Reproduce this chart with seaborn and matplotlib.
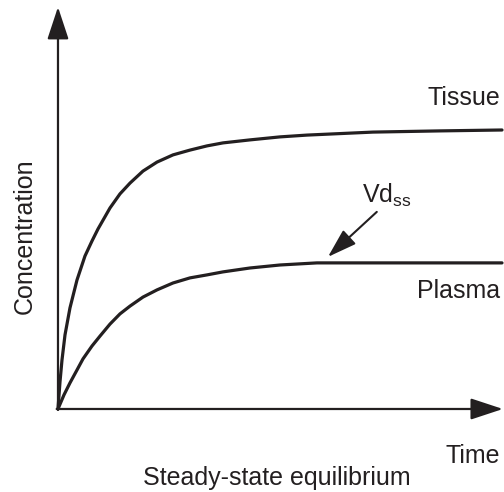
"""
plot.py
Tissue vs plasma concentration curves approaching steady state (Vd_ss)
"""

import matplotlib
matplotlib.use("Agg")
import matplotlib.pyplot as plt
import seaborn as sns
import pandas as pd

# data (time and concentration in arbitrary units)
tissue_time = [0, 0.045, 0.09, 0.158, 0.27, 0.428, 0.608, 0.766, 0.901, 1.171, 1.396, 1.622,
               1.914, 2.23, 2.59, 2.973, 3.356, 3.716, 4.324, 5.0, 5.608, 7.095, 8.604, 10.0]
tissue_conc = [0, 0.90, 1.63, 2.47, 3.37, 4.30, 5.10, 5.60, 6.00, 6.70, 7.17, 7.53,
               7.93, 8.23, 8.47, 8.63, 8.77, 8.87, 8.97, 9.07, 9.13, 9.23, 9.27, 9.30]

plasma_time = [0, 0.135, 0.27, 0.428, 0.563, 0.766, 0.946, 1.171, 1.396, 1.622, 1.914,
               2.23, 2.59, 2.973, 3.356, 3.716, 4.324, 5.0, 5.833, 7.703, 10.0]
plasma_conc = [0, 0.47, 0.87, 1.30, 1.67, 2.10, 2.43, 2.83, 3.17, 3.43, 3.73,
               3.97, 4.20, 4.37, 4.47, 4.57, 4.70, 4.80, 4.87, 4.87, 4.87]

curve_labels = ["Tissue", "Plasma"]

df = pd.concat([
    pd.DataFrame({"time": tissue_time, "conc": tissue_conc, "curve": curve_labels[0]}),
    pd.DataFrame({"time": plasma_time, "conc": plasma_conc, "curve": curve_labels[1]}),
])

sns.set_style("white")
plt.rcParams["font.family"] = ["Liberation Sans", "DejaVu Sans"]
plt.rcParams["mathtext.fontset"] = "custom"
plt.rcParams["mathtext.rm"] = "Liberation Sans"

ink = "#231f20"

fig = plt.figure(figsize=(5.04, 4.92), dpi=100)
ax = fig.add_axes([0, 0, 1, 1])

sns.lineplot(data=df, x="time", y="conc", units="curve", estimator=None,
             color=ink, linewidth=2.3, sort=False, ax=ax, legend=False)

ax.set_xlim(-1.306, 10.045)
ax.set_ylim(-2.767, 13.633)
ax.axis("off")

# axes drawn as arrows
axis_arrow = dict(arrowstyle="-|>,head_length=1.0,head_width=0.33",
                  color=ink, lw=1.6, mutation_scale=20, shrinkA=0, shrinkB=0)
ax.annotate("", xy=(0, 13.4), xytext=(0, -0.03), arrowprops=axis_arrow)
ax.annotate("", xy=(10.02, 0), xytext=(-0.03, 0), arrowprops=axis_arrow)

fs = 18
ax.text(9.95, 10.13, "Tissue", ha="right", va="baseline", fontsize=fs, color=ink)
ax.text(9.95, 3.70, "Plasma", ha="right", va="baseline", fontsize=fs, color=ink)
ax.text(9.95, -1.80, "Time", ha="right", va="baseline", fontsize=fs, color=ink)
ax.text(4.93, -2.53, "Steady-state equilibrium", ha="center", va="baseline", fontsize=fs, color=ink)
ax.text(-0.74, 5.77, "Concentration", ha="center", va="center", rotation=90, fontsize=fs, color=ink)

# Vd_ss label with arrow pointing at plasma plateau
ax.text(6.85, 6.87, r"Vd$_\mathrm{ss}$", ha="left", va="baseline", fontsize=fs, color=ink)
ax.annotate("", xy=(6.08, 5.07), xytext=(7.18, 6.57),
            arrowprops=dict(arrowstyle="-|>,head_length=1.0,head_width=0.32",
                            color=ink, lw=1.5, mutation_scale=18, shrinkA=0, shrinkB=0))

fig.savefig("out.png", dpi=100)
